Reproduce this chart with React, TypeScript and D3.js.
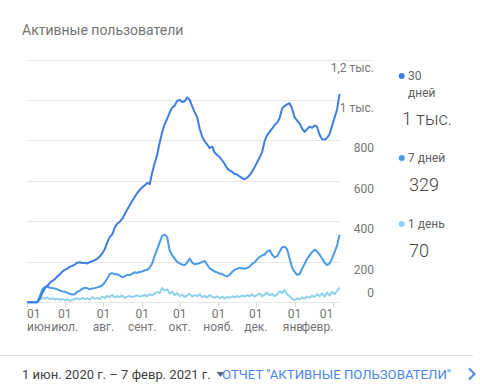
import React from "react";
import * as d3 from "d3";

const startDate = new Date(Date.UTC(2020, 5, 1));
const endDate = new Date(Date.UTC(2021, 1, 7));
const stepDays = 2;

const users30 = [
  0, 0, 0, 0, 0, 18, 45, 68, 82, 95, 106, 114, 128, 138, 152, 160, 166, 175, 180, 186,
  196, 198, 194, 196, 192, 199, 203, 208, 215, 226, 242, 262, 296, 322, 336, 368, 388, 398, 412, 436,
  458, 480, 502, 520, 540, 556, 568, 578, 590, 584, 640, 688, 730, 790, 842, 880, 908, 938, 962, 972,
  996, 1000, 990, 994, 1012, 1000, 968, 940, 915, 858, 820, 796, 780, 762, 770, 740, 728, 718, 702, 684,
  662, 652, 645, 634, 632, 622, 614, 608, 616, 628, 646, 668, 692, 716, 742, 796, 826, 842, 858, 876,
  888, 910, 958, 970, 978, 984, 958, 915, 898, 884, 858, 842, 856, 868, 862, 874, 868, 828, 806, 804,
  812, 832, 872, 912, 952, 1030,
];

const users7 = [
  0, 0, 0, 0, 0, 30, 62, 76, 78, 72, 70, 68, 64, 58, 54, 52, 48, 42, 38, 40,
  52, 58, 66, 72, 70, 64, 68, 70, 74, 78, 84, 98, 118, 140, 144, 138, 140, 132, 124, 128,
  136, 134, 142, 148, 146, 150, 152, 158, 160, 172, 192, 230, 262, 296, 328, 334, 322, 256, 232, 216,
  200, 192, 186, 184, 196, 216, 196, 188, 190, 194, 200, 204, 186, 168, 160, 152, 148, 142, 140, 132,
  128, 136, 150, 160, 166, 170, 168, 166, 170, 176, 190, 198, 212, 224, 232, 236, 252, 258, 236, 222,
  228, 250, 272, 274, 262, 218, 172, 150, 136, 140, 166, 190, 214, 232, 248, 260, 252, 236, 216, 196,
  184, 192, 216, 248, 280, 334,
];

const users1 = [
  0, 0, 0, 0, 0, 14, 22, 18, 24, 16, 20, 14, 18, 12, 16, 10, 14, 8, 12, 16,
  20, 14, 22, 16, 20, 14, 24, 18, 22, 16, 28, 22, 32, 26, 36, 24, 30, 26, 34, 22,
  28, 32, 26, 30, 34, 28, 32, 36, 30, 40, 34, 44, 52, 46, 70, 58, 64, 44, 52, 36,
  46, 30, 38, 26, 34, 42, 28, 36, 30, 40, 26, 32, 24, 36, 28, 22, 30, 20, 28, 18,
  26, 22, 30, 24, 32, 26, 34, 28, 36, 30, 40, 28, 36, 44, 30, 38, 48, 34, 42, 30,
  38, 56, 44, 62, 40, 30, 18, 10, 20, 14, 24, 18, 28, 22, 34, 26, 40, 30, 44, 28,
  48, 34, 52, 40, 56, 72,
];

const yTicks = [0, 200, 400, 600, 800, 1000, 1200];
const yTickLabels = ["0", "200", "400", "600", "800", "1 тыс.", "1,2 тыс."];
const monthLabels = ["июн.", "июл.", "авг.", "сент.", "окт.", "нояб.", "дек.", "янв.", "февр."];

const legendNames = [["30", "дней"], ["7 дней"], ["1 день"]];
const legendValues = ["1 тыс.", "329", "70"];
const colors = ["#3d7ee1", "#4a9ae9", "#8fd1ea"];

const FONT = "Roboto, 'Noto Sans', Arial, sans-serif";

export default function App() {
  const x = d3.scaleUtc().domain([startDate, endDate]).range([27.3, 340.8]);
  const y = d3.scaleLinear().domain([0, 1200]).range([302.3, 59.5]);
  const dateAt = (i: number) => d3.utcDay.offset(startDate, i * stepDays);
  const line = d3
    .line<number>()
    .x((_, i) => x(dateAt(i)))
    .y((v) => y(v))
    .curve(d3.curveLinear);
  const series = [users1, users7, users30];
  const seriesColors = [colors[2], colors[1], colors[0]];
  const months = d3.utcMonth.range(startDate, endDate);
  const last = months.length - 1;
  const anchorFor = (i: number) => (i === 0 ? "start" : i === last ? "end" : "middle");

  return (
    <svg
      width={480}
      height={390}
      style={{ position: "absolute", left: 0, top: 0, fontFamily: FONT }}
    >
      <rect width={480} height={390} fill="#ffffff" />
      <text x={22} y={35} fontSize={14} fill="#757575">
        Активные пользователи
      </text>

      {yTicks.map((t) => (
        <line
          key={"g" + t}
          x1={27}
          x2={340}
          y1={Math.round(y(t)) + 0.5}
          y2={Math.round(y(t)) + 0.5}
          stroke="#e6e6e6"
          strokeWidth={1}
        />
      ))}
      <line x1={343} x2={373} y1={Math.round(y(1200)) + 0.5} y2={Math.round(y(1200)) + 0.5} stroke="#e6e6e6" />
      {yTicks.map((t, i) => (
        <text
          key={"yl" + t}
          x={374}
          y={t === 0 ? y(t) - 5 : y(t) + 12}
          fontSize={12}
          fill="#757575"
          textAnchor="end"
        >
          {yTickLabels[i]}
        </text>
      ))}

      {months.map((m, i) => (
        <g key={"m" + i}>
          <line
            x1={Math.round(x(m)) + 0.5}
            x2={Math.round(x(m)) + 0.5}
            y1={302}
            y2={307}
            stroke="#d6d6d6"
          />
          <text x={i === 0 ? 27 : x(m)} y={318} fontSize={12} fill="#757575" textAnchor={anchorFor(i)}>
            01
          </text>
          <text x={i === 0 ? 27 : x(m)} y={331} fontSize={12} fill="#757575" textAnchor={anchorFor(i)}>
            {monthLabels[i]}
          </text>
        </g>
      ))}

      {series.map((s, k) => (
        <path
          key={"s" + k}
          d={line(s) || ""}
          fill="none"
          stroke={seriesColors[k]}
          strokeWidth={2}
          strokeLinejoin="round"
        />
      ))}

      {/* legend */}
      <circle cx={401.7} cy={76} r={3} fill={colors[0]} />
      <text x={408} y={80} fontSize={12} fill="#616161">{legendNames[0][0]}</text>
      <text x={408} y={97} fontSize={12} fill="#616161">{legendNames[0][1]}</text>
      <text x={402} y={125} fontSize={18} fontWeight={300} fill="#444444">{legendValues[0]}</text>

      <circle cx={401.7} cy={158} r={3} fill={colors[1]} />
      <text x={408} y={162} fontSize={12} fill="#616161">{legendNames[1][0]}</text>
      <text x={409} y={191} fontSize={18} fontWeight={300} fill="#444444">{legendValues[1]}</text>

      <circle cx={401.7} cy={224} r={3} fill={colors[2]} />
      <text x={408} y={228} fontSize={12} fill="#616161">{legendNames[2][0]}</text>
      <text x={409} y={257} fontSize={18} fontWeight={300} fill="#444444">{legendValues[2]}</text>

      {/* footer */}
      <line x1={0} x2={473} y1={355.5} y2={355.5} stroke="#e0e0e0" />
      <text x={22} y={379} fontSize={13} fill="#3c4043">
        1 июн. 2020 г. – 7 февр. 2021 г.
      </text>
      <path d="M216.5,372 L224.5,372 L220.5,377 Z" fill="#5f6368" />
      <text x={222} y={379} fontSize={13.2} fill="#4a86e8">
        ОТЧЕТ "АКТИВНЫЕ ПОЛЬЗОВАТЕЛИ"
      </text>
      <path d="M469,368.5 L474.5,374 L469,379.5" fill="none" stroke="#4a86e8" strokeWidth={2} />
    </svg>
  );
}
